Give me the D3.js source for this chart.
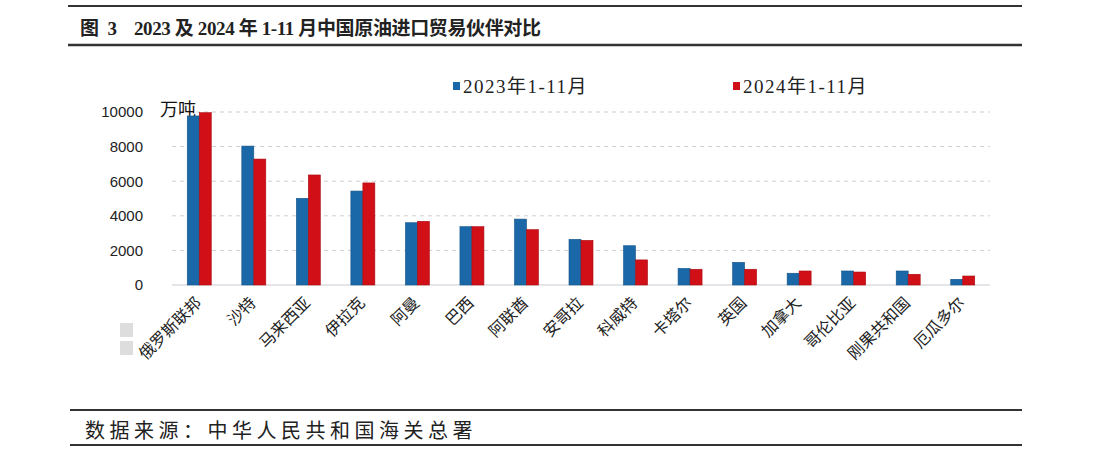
<!DOCTYPE html>
<html>
<head>
<meta charset="utf-8">
<script src="https://cdn.jsdelivr.net/npm/d3@7"></script>
<style>
  body{margin:0;background:#fff;}
  text{font-family:"Liberation Serif","Noto Sans CJK SC",serif;}
</style>
</head>
<body>
<script>
// 中国原油进口贸易伙伴 (万吨)
var countries=["俄罗斯联邦","沙特","马来西亚","伊拉克","阿曼","巴西","阿联酋","安哥拉","科威特","卡塔尔","英国","加拿大","哥伦比亚","刚果共和国","厄瓜多尔"]
var v2023=[9770,8030,5010,5430,3600,3370,3810,2640,2270,960,1310,680,810,810,330]
var v2024=[9960,7280,6360,5900,3680,3370,3200,2580,1450,910,910,810,750,620,520]
var seriesNames=["2023年1-11月","2024年1-11月"]
var colors=["#1a68a8","#d10f17"]
var yTicks=[0,2000,4000,6000,8000,10000]

var W=1100,H=450
var svg=d3.select("body").append("svg").attr("width",W).attr("height",H)
svg.append("rect").attr("width",W).attr("height",H).attr("fill","#fff")

// title + rules
svg.append("line").attr("x1",68).attr("x2",1022).attr("y1",6).attr("y2",6).attr("stroke","#333").attr("stroke-width",2)
svg.append("line").attr("x1",68).attr("x2",1022).attr("y1",45).attr("y2",45).attr("stroke","#333").attr("stroke-width",2.5)
svg.append("text").attr("x",80).attr("y",35)
   .attr("font-size","19px").attr("font-weight","bold").attr("fill","#222")
   .style("white-space","pre")
   .attr("textLength",461).attr("lengthAdjust","spacing")
   .text("图  3    2023 及 2024 年 1-11 月中国原油进口贸易伙伴对比")

// watermark squares
svg.append("rect").attr("x",120).attr("y",323).attr("width",13).attr("height",14).attr("fill","#ddd")
svg.append("rect").attr("x",120).attr("y",341).attr("width",13).attr("height",14).attr("fill","#ddd")

var x=d3.scaleBand().domain(countries).range([172,990]).paddingInner(0.56).paddingOuter(0.28)
var xs=d3.scaleBand().domain([0,1]).range([0,x.bandwidth()])
var y=d3.scaleLinear().domain([0,10000]).range([285,112])

// grid
svg.append("g").selectAll("line").data(yTicks.filter(function(d){return d>0}))
   .enter().append("line")
   .attr("x1",172).attr("x2",990)
   .attr("y1",function(d){return y(d)}).attr("y2",function(d){return y(d)})
   .attr("stroke","#cfcfcf").attr("stroke-dasharray","4,4")
svg.append("line").attr("x1",172).attr("x2",990).attr("y1",y(0)).attr("y2",y(0))
   .attr("stroke","#c8ccd4").attr("stroke-width",1.2)

// y axis labels
var yAxis=d3.axisLeft(y).tickValues(yTicks).tickFormat(d3.format("d")).tickSize(0).tickPadding(0)
var ya=svg.append("g").attr("transform","translate(143,0)").call(yAxis)
ya.select(".domain").remove()
ya.selectAll("text").attr("font-size","15px").attr("fill","#222")
  .style("font-family","Liberation Sans, sans-serif")

svg.append("text").attr("x",160).attr("y",116).attr("font-size","18px").attr("fill","#111")
   .style("font-family","Noto Sans CJK SC").text("万吨")

// bars
var data=[v2023,v2024]
data.forEach(function(vals,s){
  svg.append("g").selectAll("rect").data(vals).enter().append("rect")
     .attr("x",function(d,i){return x(countries[i])+xs(s)})
     .attr("y",function(d){return y(d)})
     .attr("width",xs.bandwidth())
     .attr("height",function(d){return y(0)-y(d)})
     .attr("fill",colors[s])
     .attr("stroke",d3.color(colors[s]).darker(0.6)).attr("stroke-width",0.6)
})

// x labels
svg.append("g").selectAll("text").data(countries).enter().append("text")
   .attr("transform",function(d){return "translate("+(x(d)+x.bandwidth()/2-1)+",300) rotate(-45)"})
   .attr("text-anchor","end").attr("dy","0.35em")
   .attr("font-size","16px").attr("fill","#222")
   .style("font-family","Noto Sans CJK SC")
   .text(function(d){return d})

// legend
var lx=[453,733]
seriesNames.forEach(function(n,i){
  svg.append("rect").attr("x",lx[i]).attr("y",82).attr("width",7).attr("height",8).attr("fill",colors[i])
  svg.append("text").attr("x",lx[i]+10).attr("y",93).attr("font-size","19px").attr("fill","#222")
     .attr("letter-spacing","1.5px").text(n)
})

// footer
svg.append("line").attr("x1",70).attr("x2",1022).attr("y1",410).attr("y2",410).attr("stroke","#333").attr("stroke-width",2)
svg.append("line").attr("x1",70).attr("x2",1022).attr("y1",445).attr("y2",445).attr("stroke","#333").attr("stroke-width",2)
svg.append("text").attr("x",85).attr("y",438).attr("font-size","20px").attr("fill","#222")
   .attr("letter-spacing","4.5px").style("font-family","Noto Sans CJK SC")
   .text("数据来源：中华人民共和国海关总署")
</script>
</body>
</html>
